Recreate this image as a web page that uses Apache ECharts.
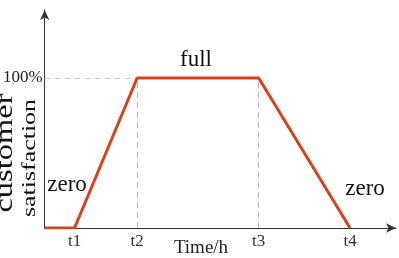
<!DOCTYPE html>
<html><head><meta charset="utf-8">
<script src="https://cdn.jsdelivr.net/npm/echarts@6/dist/echarts.min.js"></script>
<style>html,body{margin:0;padding:0;background:#fff}#c{width:399px;height:258px}</style>
</head><body><div id="c"></div>
<script>
// Data
var tickNames = ['t1', 't2', 't3', 't4'];
var tickTimes = [1.02, 3.16, 7.31, 10.43];
var times = [0, 1.02, 3.16, 7.31, 10.43];
var satisfaction = [0, 0, 1, 1, 0];
var yTickValues = [1];
var yTickNames = ['100%'];

var serif = '"Liberation Serif", "DejaVu Serif", serif';
var chart = echarts.init(document.getElementById('c'));
var pts = times.map(function (t, i) { return [t, satisfaction[i]]; });

chart.setOption({
  animation: false,
  grid: { left: 43, right: 3, top: 10, bottom: 30 },
  xAxis: {
    type: 'value', min: 0, max: 12,
    axisLine: { show: true, symbol: ['none', 'arrow'], symbolSize: [7, 10], lineStyle: { color: '#333', width: 1 } },
    axisTick: { show: false },
    splitLine: { show: false },
    axisLabel: {
      customValues: tickTimes,
      formatter: function (v) { var i = tickTimes.indexOf(v); return i >= 0 ? tickNames[i] : ''; },
      color: '#333', fontFamily: serif, fontSize: 17, margin: 5
    }
  },
  yAxis: {
    type: 'value', min: 0, max: 1.453,
    axisLine: { show: true, symbol: ['none', 'arrow'], symbolSize: [7, 10], lineStyle: { color: '#333', width: 1 } },
    axisTick: { show: false },
    splitLine: { show: false },
    axisLabel: {
      customValues: yTickValues,
      formatter: function (v) { var i = yTickValues.indexOf(v); return i >= 0 ? yTickNames[i] : ''; },
      color: '#222', fontFamily: serif, fontSize: 17, margin: 2
    }
  },
  series: [{
    type: 'line',
    data: pts,
    symbol: 'none',
    lineStyle: { color: '#d9401c', width: 3 },
    z: 5,
    markLine: {
      silent: true, symbol: 'none', label: { show: false },
      lineStyle: { type: [6, 4], width: 1, color: '#b8b8cc' },
      data: [
        [{ coord: [0, satisfaction[2]], lineStyle: { color: '#cccccc' } }, { coord: [times[2], satisfaction[2]] }],
        [{ coord: [times[2], 0] }, { coord: [times[2], satisfaction[2]] }],
        [{ coord: [times[3], 0] }, { coord: [times[3], satisfaction[3]] }]
      ]
    }
  }],
  graphic: [
    { type: 'text', x: 201, y: 248, style: { text: 'Time/h', font: '19px ' + serif, fill: '#222', align: 'center', verticalAlign: 'middle' } },
    { type: 'text', x: -7, y: 153, rotation: Math.PI / 2, scaleX: 1.3, style: { text: 'customer', font: '25px ' + serif, fill: '#111', align: 'center', verticalAlign: 'top' } },
    { type: 'text', x: 21, y: 158, rotation: Math.PI / 2, scaleX: 1.44, style: { text: 'satisfaction', font: '18px ' + serif, fill: '#111', align: 'center', verticalAlign: 'top' } },
    { type: 'text', x: 196, y: 60, style: { text: 'full', font: '23px ' + serif, fill: '#111', align: 'center', verticalAlign: 'middle' } },
    { type: 'text', x: 67, y: 185, style: { text: 'zero', font: '23px ' + serif, fill: '#111', align: 'center', verticalAlign: 'middle' } },
    { type: 'text', x: 365, y: 189, style: { text: 'zero', font: '23px ' + serif, fill: '#111', align: 'center', verticalAlign: 'middle' } }
  ]
});
</script></body></html>
